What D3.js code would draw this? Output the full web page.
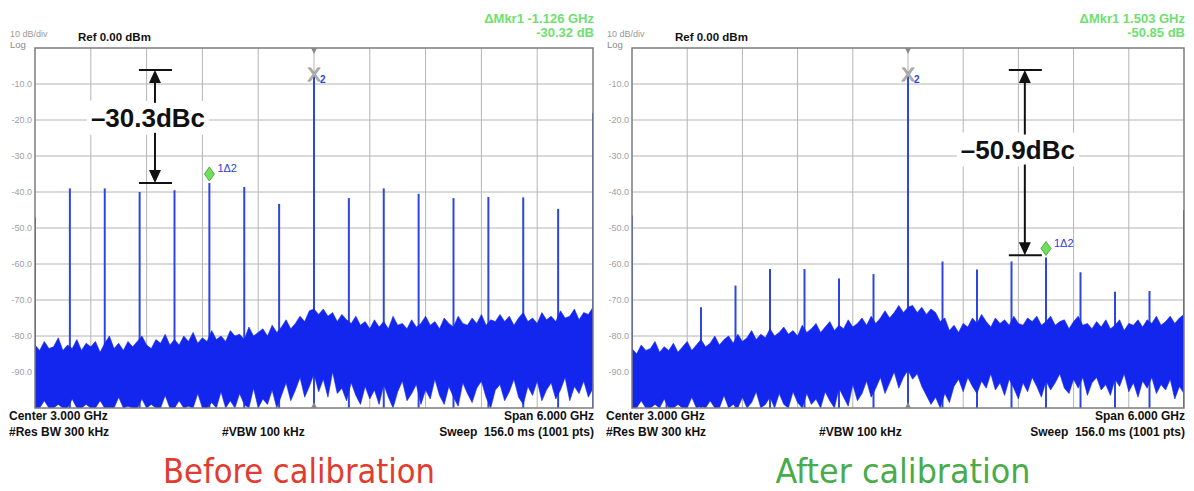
<!DOCTYPE html>
<html>
<head>
<meta charset="utf-8">
<script src="https://cdn.jsdelivr.net/npm/d3@7"></script>
<style>
  body { margin: 0; background: #fff; }
  svg text { font-family: "Liberation Sans", Arial, sans-serif; white-space: pre; }
</style>
</head>
<body>
<svg id="chart" width="1194" height="491"></svg>
<script>
// ---- data ----
// spur frequencies (GHz), one every 0.375 GHz across the 0..6 GHz span
var spurFreqs = [0, 0.375, 0.75, 1.125, 1.5, 1.875, 2.25, 2.625, 3.0, 3.375, 3.75, 4.125, 4.5, 4.875, 5.25, 5.625, 6.0];
var beforeSpurs = [-47, -39, -39, -40, -39.5, -37.5, -38.6, -43.3, -7.3, -41.7, -39, -40.5, -41.7, -41.4, -41.5, -44.7, -18];
var afterSpurs = [-46.5, -84, -72, -66, -61.4, -61.4, -64, -62.8, -7.3, -59.3, -61.5, -59.3, -58.2, -62.3, -67.7, -67.5, -45];

// noise floor envelopes (dBm), one value every 0.05 GHz from 0 to 6 GHz
var beforeNoiseTop = [
  -82.5, -84, -81.5, -83.5, -83, -80.5, -84, -82.5, -83.5, -81, -84,
  -82, -83, -81.5, -84.5, -82, -80, -83.5, -82, -84, -81.5,
  -83, -81.5, -80, -82.5, -83.5, -81, -82, -79.5, -82.5, -81,
  -82.5, -80, -81.5, -79, -82, -80.5, -81.5, -78.5, -81, -80,
  -81.5, -78.5, -80, -79.5, -81, -77.5, -80, -79, -78, -80,
  -77, -79, -77.5, -75.5, -78, -76.5, -74.5, -76, -73, -72.5,
  -74, -72.5, -74.5, -73.5, -76, -74, -75.5, -76.5, -74.5, -77,
  -76, -78, -75.5, -77.5, -76, -78, -74.5, -77, -76.5, -78,
  -75.5, -77.5, -76.5, -74.5, -77, -76, -78, -75, -76.5, -77.5,
  -74.5, -76.5, -77, -75, -76.5, -74, -77, -75.5, -76, -74,
  -76, -74.5, -77, -75, -73.5, -76, -75, -76.5, -73.5, -75.5,
  -74.5, -76, -73, -75, -74.5, -72.5, -75.5, -73.5, -74, -72
];
var beforeNoiseBottom = [
  -100, -100, -98, -100, -100, -99, -100, -100, -97.5, -100, -100,
  -99, -100, -100, -98, -100, -100, -100, -97, -100, -99.5,
  -100, -100, -97.5, -100, -99, -100, -100, -96.5, -100, -100,
  -98, -100, -99.5, -100, -96, -100, -100, -98.5, -100, -95.5,
  -100, -98, -100, -96, -99, -100, -94.5, -100, -97.5, -99,
  -95, -100, -96.5, -93, -98, -95, -91.5, -97, -94, -90.5,
  -95.5, -92, -97, -90, -96, -94.5, -98, -93, -96.5, -99,
  -94, -97.5, -95, -99, -93.5, -97, -100, -95.5, -92.5, -98,
  -96, -93.5, -99, -95, -97.5, -92, -96.5, -99, -94, -97,
  -99.5, -93, -96, -98.5, -94.5, -92.5, -97, -100, -95, -93.5,
  -98, -95.5, -92, -97, -99, -94, -96.5, -92.5, -98, -95,
  -93, -97.5, -95, -91.5, -98, -94, -96, -92.5, -97, -94.5
];
var afterNoiseTop = [
  -83.5, -85, -82.5, -84, -83.5, -81.5, -84.5, -83, -84, -82, -84.5,
  -83, -81.5, -84, -82.5, -81, -83, -82, -80, -82.5, -81,
  -80, -82, -79.5, -81.5, -80.5, -78.5, -81, -79.5, -80.5, -78,
  -80, -79, -77.5, -79.5, -78.5, -80, -77, -79, -78, -76.5,
  -79, -77.5, -76, -78.5, -77, -78, -75.5, -77.5, -76.5, -75,
  -77, -74.5, -76.5, -75, -73, -75, -73.5, -71.5, -73.5, -72,
  -71.5, -73.5, -72, -74, -72.5, -73.5, -76, -75, -78.5, -77,
  -79, -76.5, -77.5, -75, -76.5, -74, -76, -77.5, -75, -76.5,
  -75.5, -77, -74.5, -76.5, -77, -75, -76, -74.5, -77, -76,
  -74.5, -77, -76, -75.5, -78, -76, -74.5, -77, -76.5, -78,
  -76, -77.5, -75.5, -78, -77, -75.5, -78.5, -76.5, -77, -75.5,
  -77.5, -75.5, -76.5, -74.5, -77, -76, -74.5, -76.5, -75, -74
];
var afterNoiseBottom = [
  -100, -100, -98, -100, -100, -99, -100, -97.5, -100, -100, -99,
  -100, -100, -97, -100, -99.5, -100, -98, -100, -100, -96.5,
  -100, -99, -100, -97, -100, -98.5, -95.5, -100, -99, -97,
  -100, -96, -99, -100, -95.5, -98.5, -100, -96, -99, -97.5,
  -100, -95.5, -98, -100, -94.5, -97, -99.5, -93.5, -98, -96,
  -92.5, -97, -94.5, -91.5, -96, -93, -90, -94.5, -91.5, -89.5,
  -92, -90.5, -94, -96.5, -99, -97, -100, -96, -98.5, -94,
  -92, -95.5, -91.5, -94, -96, -92.5, -94.5, -90.5, -95, -93,
  -96.5, -92, -94.5, -97.5, -93, -95.5, -91.5, -94, -97, -92.5,
  -95, -93, -90.5, -94.5, -96, -92, -94.5, -91.5, -96.5, -93,
  -91.5, -95, -93.5, -96.5, -92, -94, -90.5, -95.5, -93, -97,
  -92.5, -94.5, -91.5, -96, -93.5, -95, -92, -97.5, -94, -96
];

var xGrid = [0.6, 1.2, 1.8, 2.4, 3.0, 3.6, 4.2, 4.8, 5.4];
var yTicks = [-10, -20, -30, -40, -50, -60, -70, -80, -90];

var svg = d3.select("#chart");

function drawPanel(p) {
  var x = d3.scaleLinear().domain([0, 6]).range([p.left, p.right]);
  var y = d3.scaleLinear().domain([-100, 0]).range([408, 48]);
  var g = svg.append("g");

  // grid
  g.selectAll(".vg").data(xGrid).enter().append("line")
    .attr("x1", d => x(d)).attr("x2", d => x(d))
    .attr("y1", y(0)).attr("y2", y(-100))
    .attr("stroke", "#b4b4b4").attr("stroke-width", 1);
  g.selectAll(".hg").data(yTicks).enter().append("line")
    .attr("x1", x(0)).attr("x2", x(6))
    .attr("y1", d => y(d)).attr("y2", d => y(d))
    .attr("stroke", "#b4b4b4").attr("stroke-width", 1);

  // y labels
  g.selectAll(".yl").data(yTicks).enter().append("text")
    .attr("x", p.left - 3).attr("y", d => y(d) + 3)
    .attr("text-anchor", "end").attr("font-size", 9).attr("fill", "#a0a0a0")
    .text(d => d.toFixed(1));

  // clip for trace
  var clipId = "clip" + p.name;
  svg.append("clipPath").attr("id", clipId).append("rect")
    .attr("x", p.left).attr("y", y(0)).attr("width", p.right - p.left).attr("height", y(-100) - y(0));

  var trace = g.append("g").attr("clip-path", "url(#" + clipId + ")");

  // spurs
  trace.selectAll(".spur").data(p.spurs).enter().append("line")
    .attr("x1", (d, i) => x(spurFreqs[i])).attr("x2", (d, i) => x(spurFreqs[i]))
    .attr("y1", d => y(d)).attr("y2", y(-100))
    .attr("stroke", "#2f45e0").attr("stroke-width", 2);

  // noise band
  var area = d3.area()
    .x((d, i) => x(i * 0.05))
    .y0(d => y(d[1]))
    .y1(d => y(d[0]));
  trace.append("path")
    .datum(d3.zip(p.noiseTop, p.noiseBottom))
    .attr("d", area)
    .attr("fill", "#1226ee")
    .attr("stroke", "#1226ee").attr("stroke-width", 0.6);

  // frame
  g.append("rect")
    .attr("x", p.left).attr("y", y(0)).attr("width", p.right - p.left).attr("height", y(-100) - y(0))
    .attr("fill", "none").attr("stroke", "#7c7c7c").attr("stroke-width", 1.5);

  // center triangles
  var cx = x(3.0);
  g.append("path").attr("d", "M" + (cx - 3) + "," + y(0) + "L" + (cx + 3) + "," + y(0) + "L" + cx + "," + (y(0) + 6) + "Z").attr("fill", "#888");
  g.append("path").attr("d", "M" + (cx - 3) + "," + y(-100) + "L" + (cx + 3) + "," + y(-100) + "L" + cx + "," + (y(-100) - 6) + "Z").attr("fill", "#888");

  // main marker (X with subscript 2)
  var mainLevel = p.spurs[8];
  g.append("text").attr("x", cx).attr("y", y(mainLevel) + 7)
    .attr("text-anchor", "middle").attr("font-size", 19)
    .attr("fill", "#dadada").attr("stroke", "#999").attr("stroke-width", 1)
    .text("X");
  g.append("text").attr("x", cx + 6).attr("y", y(mainLevel) + 9)
    .attr("font-size", 10).attr("font-weight", "bold").attr("fill", "#2f45e0").text("2");

  // delta marker diamond
  var mk = x(spurFreqs[p.mkIdx]);
  var my = y(p.spurs[p.mkIdx]) - 9;
  g.append("path")
    .attr("d", "M" + mk + "," + (my - 7) + "L" + (mk + 5) + "," + my + "L" + mk + "," + (my + 7) + "L" + (mk - 5) + "," + my + "Z")
    .attr("fill", "#6ee05a").attr("stroke", "#3c9a34").attr("stroke-width", 0.8);
  g.append("text").attr("x", mk + 8).attr("y", my - 2)
    .attr("font-size", 11).attr("fill", "#3040d8").text("1\u03942");

  // annotation arrow with dBc label
  var ax = x(p.annX);
  var yTop = y(p.annTop), yBot = y(p.annBottom), yTxt = y(p.annText);
  var lab = g.append("text").attr("x", ax - 7).attr("y", yTxt + 9.5)
    .attr("text-anchor", "middle").attr("font-size", 26).attr("font-weight", "bold")
    .attr("fill", "#111").text(p.annLabel);
  var bb = lab.node().getBBox();
  g.insert("rect", function () { return lab.node(); })
    .attr("x", bb.x - 4).attr("y", yTxt - 17).attr("width", bb.width + 8).attr("height", 34)
    .attr("fill", "#fff");
  g.append("line").attr("x1", ax - 16).attr("x2", ax + 17).attr("y1", yTop).attr("y2", yTop)
    .attr("stroke", "#111").attr("stroke-width", 2);
  g.append("line").attr("x1", ax - 16).attr("x2", ax + 17).attr("y1", yBot).attr("y2", yBot)
    .attr("stroke", "#111").attr("stroke-width", 2);
  g.append("line").attr("x1", ax).attr("x2", ax).attr("y1", yTop + 10).attr("y2", yTxt - 15)
    .attr("stroke", "#111").attr("stroke-width", 2);
  g.append("line").attr("x1", ax).attr("x2", ax).attr("y1", yTxt + 15).attr("y2", yBot - 10)
    .attr("stroke", "#111").attr("stroke-width", 2);
  g.append("path").attr("d", "M" + ax + "," + yTop + "L" + (ax + 6) + "," + (yTop + 13) + "L" + (ax - 6) + "," + (yTop + 13) + "Z").attr("fill", "#111");
  g.append("path").attr("d", "M" + ax + "," + yBot + "L" + (ax + 6) + "," + (yBot - 13) + "L" + (ax - 6) + "," + (yBot - 13) + "Z").attr("fill", "#111");

  // header texts
  g.append("text").attr("x", p.left - 25).attr("y", 37).attr("font-size", 9).attr("fill", "#9a9a9a").text("10 dB/div");
  g.append("text").attr("x", p.left - 25).attr("y", 48).attr("font-size", 9.5).attr("fill", "#8a8a8a").text("Log");
  g.append("text").attr("x", p.left + 43).attr("y", 41).attr("font-size", 11.5).attr("font-weight", "bold").attr("fill", "#111").text("Ref 0.00 dBm");
  g.append("text").attr("x", p.right + 1).attr("y", 23).attr("text-anchor", "end").attr("font-size", 13).attr("font-weight", "bold").attr("fill", "#6fe06f").text(p.mkr1);
  g.append("text").attr("x", p.right + 1).attr("y", 37).attr("text-anchor", "end").attr("font-size", 13).attr("font-weight", "bold").attr("fill", "#6fe06f").text(p.mkr2);

  // footer texts
  var foot = g.append("g").attr("font-size", 12).attr("font-weight", "bold").attr("fill", "#111");
  foot.append("text").attr("x", p.left - 26).attr("y", 420).text("Center 3.000 GHz");
  foot.append("text").attr("x", p.left - 26).attr("y", 436).text("#Res BW 300 kHz");
  foot.append("text").attr("x", p.left + 187).attr("y", 436).text("#VBW 100 kHz");
  foot.append("text").attr("x", p.right + 1).attr("y", 420).attr("text-anchor", "end").text("Span 6.000 GHz");
  foot.append("text").attr("x", p.right + 1).attr("y", 436).attr("text-anchor", "end").text("Sweep  156.0 ms (1001 pts)");

  // caption
  svg.append("text").attr("x", p.capX).attr("y", 483)
    .attr("text-anchor", "middle").attr("font-size", 33)
    .style("font-family", "'DejaVu Sans Condensed', 'DejaVu Sans', sans-serif")
    .attr("textLength", p.capW).attr("lengthAdjust", "spacingAndGlyphs")
    .attr("fill", p.capColor).text(p.caption);
}

drawPanel({
  name: "before", left: 35, right: 593,
  spurs: beforeSpurs, noiseTop: beforeNoiseTop, noiseBottom: beforeNoiseBottom,
  mkIdx: 5, mkr1: "\u0394Mkr1 -1.126 GHz", mkr2: "-30.32 dB",
  annX: 1.29, annTop: -6.1, annBottom: -37.5, annText: -19.4, annLabel: "\u201330.3dBc",
  caption: "Before calibration", capColor: "#e23b2f", capX: 299, capW: 272
});
drawPanel({
  name: "after", left: 632, right: 1184,
  spurs: afterSpurs, noiseTop: afterNoiseTop, noiseBottom: afterNoiseBottom,
  mkIdx: 12, mkr1: "\u0394Mkr1 1.503 GHz", mkr2: "-50.85 dB",
  annX: 4.27, annTop: -6.1, annBottom: -57.6, annText: -28.2, annLabel: "\u201350.9dBc",
  caption: "After calibration", capColor: "#4aab4a", capX: 903, capW: 255
});
</script>
</body>
</html>
